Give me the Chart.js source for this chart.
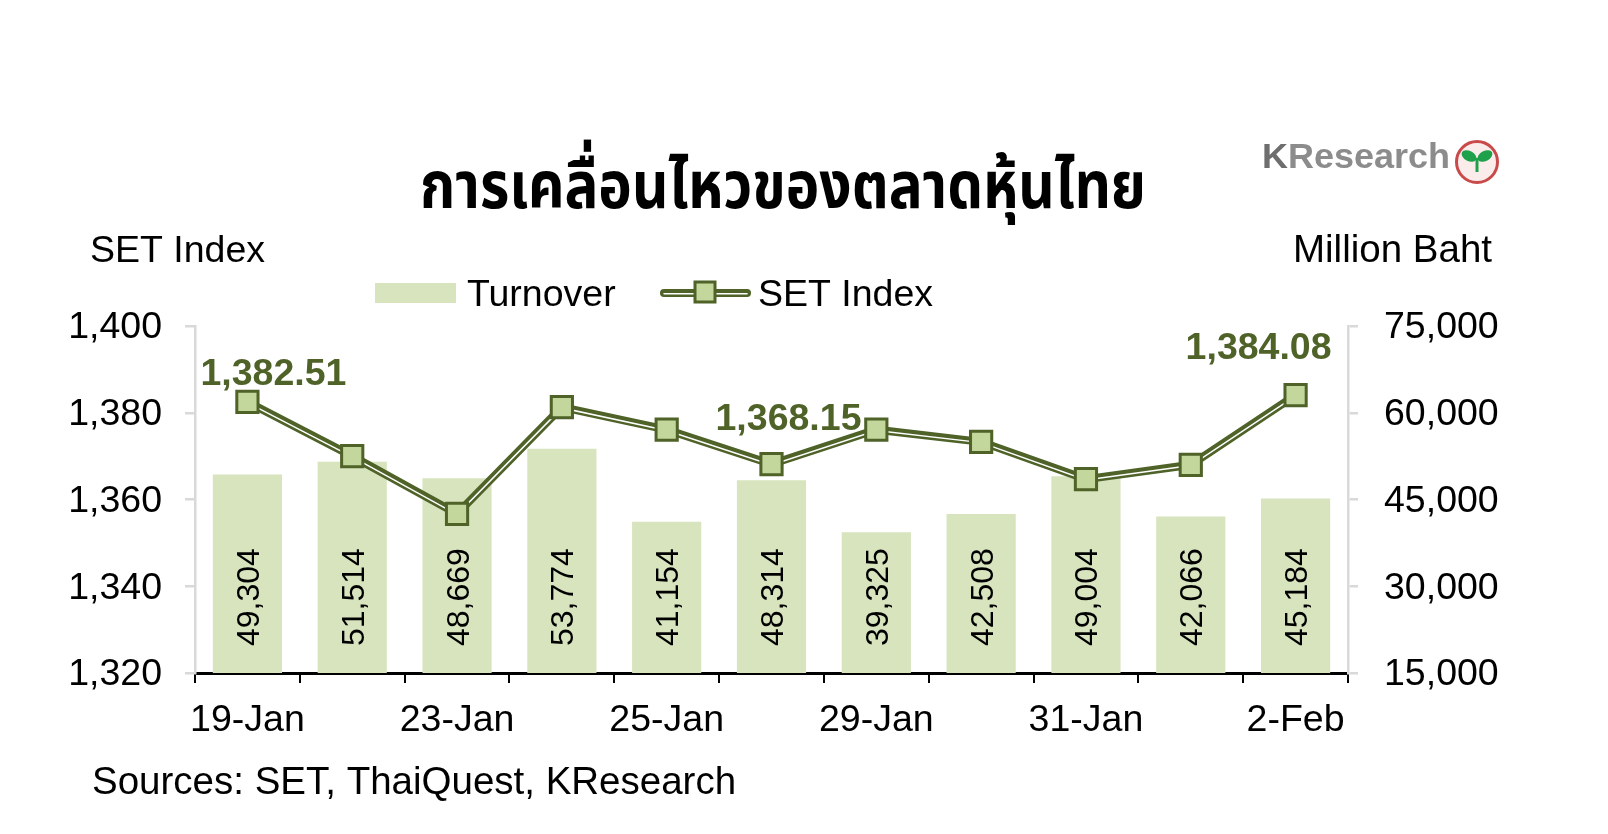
<!DOCTYPE html>
<html>
<head>
<meta charset="utf-8">
<script src="https://cdn.jsdelivr.net/npm/chart.js@4.4.1/dist/chart.umd.min.js"></script>
<style>
  html, body { margin: 0; padding: 0; background: #fff; }
  #wrap { width: 1608px; height: 834px; }
</style>
</head>
<body>
<div id="wrap"><canvas id="setChart" width="1608" height="834"></canvas></div>
<script>
// data
const dates = ['19-Jan', '22-Jan', '23-Jan', '24-Jan', '25-Jan', '26-Jan', '29-Jan', '30-Jan', '31-Jan', '1-Feb', '2-Feb'];
const turnover = [49304, 51514, 48669, 53774, 41154, 48314, 39325, 42508, 49004, 42066, 45184];
const setIndex = [1382.51, 1370.0, 1356.7, 1381.3, 1376.1, 1368.15, 1376.1, 1373.3, 1364.7, 1368.0, 1384.08];
const labelledPoints = [0, 5, 10];
const leftTicks = [1320, 1340, 1360, 1380, 1400];
const rightTicks = [15000, 30000, 45000, 60000, 75000];

const DARK = '#4F6228';
const MARKER = '#C3D69B';
const BAR = '#D7E4BD';
const AXIS_GRAY = '#D9D9D9';
const FONT = '"Liberation Sans", Arial, sans-serif';
const THAI_FONT = '"Noto Sans Thai", "Noto Sans Thai UI", "Loma", "Garuda", "Tlwg Typo", "Norasi", sans-serif';

const labelShift = [[26, -30], [17, -48], [-37, -50]];

const decor = {
  id: 'decor',
  beforeDatasetDraw(chart, args) {
    // inner white stripe of the double line sits a bit low
    if (args.index === 2) {
      chart.ctx.save();
      chart.ctx.translate(0, 0.8);
    }
  },
  afterDatasetDraw(chart, args) {
    if (args.index === 2) {
      chart.ctx.restore();
      return;
    }
    if (args.index !== 0) return;
    // turnover values, rotated inside the bars
    const ctx = chart.ctx;
    const base = chart.chartArea.bottom - 27;
    ctx.save();
    ctx.font = '32px ' + FONT;
    ctx.fillStyle = '#000';
    ctx.textAlign = 'left';
    ctx.textBaseline = 'alphabetic';
    args.meta.data.forEach((bar, i) => {
      ctx.save();
      ctx.translate(bar.x + 11.5, base);
      ctx.rotate(-Math.PI / 2);
      ctx.fillText(turnover[i].toLocaleString('en-US'), 0, 0);
      ctx.restore();
    });
    ctx.restore();
  },
  afterDraw(chart) {
    const ctx = chart.ctx;
    ctx.save();

    // value labels on SET Index
    const pts = chart.getDatasetMeta(3).data;
    ctx.font = 'bold 37.5px ' + FONT;
    ctx.fillStyle = DARK;
    ctx.textAlign = 'center';
    ctx.textBaseline = 'alphabetic';
    labelledPoints.forEach((idx, k) => {
      const p = pts[idx];
      const txt = setIndex[idx].toLocaleString('en-US', { minimumFractionDigits: 2, maximumFractionDigits: 2 });
      ctx.fillText(txt, p.x + labelShift[k][0], p.y + labelShift[k][1] + 13.5);
    });

    // axis titles and source
    ctx.fillStyle = '#000';
    ctx.font = '37.5px ' + FONT;
    ctx.textAlign = 'left';
    ctx.fillText('SET Index', 90, 262);
    ctx.font = '38.5px ' + FONT;
    ctx.fillText('Sources: SET, ThaiQuest, KResearch', 92, 794);
    ctx.textAlign = 'right';
    ctx.fillText('Million Baht', 1492, 262);

    // title, squeezed to the reference width
    ctx.font = 'bold 66px ' + THAI_FONT;
    ctx.textAlign = 'left';
    const title = 'การเคลื่อนไหวของตลาดหุ้นไทย';
    const tw = ctx.measureText(title).width;
    ctx.save();
    ctx.translate(420, 208);
    ctx.scale(726 / tw, 1);
    ctx.fillText(title, 0, 0);
    ctx.restore();

    // legend
    ctx.fillStyle = BAR;
    ctx.fillRect(375, 283, 81, 20);
    ctx.fillStyle = '#000';
    ctx.font = '37.5px ' + FONT;
    ctx.textAlign = 'left';
    ctx.fillText('Turnover', 467, 306);
    ctx.fillText('SET Index', 758, 306);
    ctx.lineCap = 'round';
    ctx.strokeStyle = DARK;
    ctx.lineWidth = 8;
    ctx.beginPath(); ctx.moveTo(664, 293); ctx.lineTo(747, 293); ctx.stroke();
    ctx.strokeStyle = '#fff';
    ctx.lineWidth = 1.5;
    ctx.beginPath(); ctx.moveTo(664, 293.8); ctx.lineTo(747, 293.8); ctx.stroke();
    ctx.fillStyle = MARKER;
    ctx.strokeStyle = DARK;
    ctx.lineWidth = 3;
    ctx.fillRect(695, 282, 20, 20);
    ctx.strokeRect(695, 282, 20, 20);

    // KResearch logo
    ctx.font = 'bold 35px ' + FONT;
    ctx.textAlign = 'left';
    ctx.save();
    ctx.translate(1262, 168);
    const kw = ctx.measureText('KResearch').width;
    ctx.scale(188 / kw, 1);
    ctx.fillStyle = '#6E6E6E';
    ctx.fillText('K', 0, 0);
    const kW = ctx.measureText('K').width;
    ctx.fillStyle = '#8C8C8C';
    ctx.fillText('Research', kW, 0);
    ctx.restore();
    ctx.beginPath();
    ctx.arc(1477, 162, 20.5, 0, Math.PI * 2);
    ctx.fillStyle = '#FBECEC';
    ctx.fill();
    ctx.strokeStyle = '#C94A4A';
    ctx.lineWidth = 3;
    ctx.stroke();
    ctx.fillStyle = '#1FA04A';
    ctx.beginPath();
    ctx.ellipse(1469, 156, 8, 5, 0.5, 0, Math.PI * 2);
    ctx.ellipse(1485, 156, 8, 5, -0.5, 0, Math.PI * 2);
    ctx.fill();
    ctx.fillRect(1475.5, 158, 3, 14);

    ctx.restore();
  }
};

const tickFont = { family: FONT, size: 37.5 };

new Chart(document.getElementById('setChart'), {
  type: 'bar',
  data: {
    labels: dates,
    datasets: [
      {
        type: 'bar',
        label: 'Turnover',
        data: turnover,
        yAxisID: 'yRight',
        backgroundColor: BAR,
        barPercentage: 0.66,
        categoryPercentage: 1,
        order: 4
      },
      {
        type: 'line',
        label: 'SET Index',
        data: setIndex,
        yAxisID: 'yLeft',
        borderColor: DARK,
        borderWidth: 8,
        pointRadius: 0,
        tension: 0,
        order: 3
      },
      {
        type: 'line',
        label: 'SET Index inner',
        data: setIndex,
        yAxisID: 'yLeft',
        borderColor: '#FFFFFF',
        borderWidth: 1.5,
        pointRadius: 0,
        tension: 0,
        order: 2
      },
      {
        type: 'line',
        label: 'SET Index markers',
        data: setIndex,
        yAxisID: 'yLeft',
        showLine: false,
        pointStyle: 'rect',
        pointRadius: 15,
        pointBorderWidth: 3,
        pointBackgroundColor: MARKER,
        pointBorderColor: DARK,
        order: 1
      }
    ]
  },
  options: {
    responsive: false,
    animation: false,
    layout: { padding: { top: 326, left: 0, right: 0, bottom: 0 } },
    plugins: {
      legend: { display: false },
      tooltip: { enabled: false }
    },
    scales: {
      x: {
        grid: { offset: true, drawOnChartArea: false, color: '#000', lineWidth: 2, tickLength: 10 },
        border: { color: '#000', width: 3 },
        ticks: {
          autoSkip: false,
          maxRotation: 0,
          padding: 15,
          color: '#000',
          font: tickFont,
          callback: (v, i) => (i % 2 ? '' : dates[i])
        },
        afterFit: s => { s.height = 834 - 673; }
      },
      yLeft: {
        position: 'left',
        min: leftTicks[0],
        max: leftTicks[leftTicks.length - 1],
        afterBuildTicks: s => { s.ticks = leftTicks.map(v => ({ value: v })); },
        grid: { drawOnChartArea: false, color: AXIS_GRAY, lineWidth: 2.5, tickLength: 10 },
        border: { color: AXIS_GRAY, width: 2.5 },
        ticks: {
          padding: 23,
          labelOffset: 2,
          color: '#000',
          font: tickFont,
          callback: v => v.toLocaleString('en-US')
        },
        afterFit: s => { s.width = 195; }
      },
      yRight: {
        position: 'right',
        min: rightTicks[0],
        max: rightTicks[rightTicks.length - 1],
        afterBuildTicks: s => { s.ticks = rightTicks.map(v => ({ value: v })); },
        grid: { drawOnChartArea: false, color: AXIS_GRAY, lineWidth: 2.5, tickLength: 10 },
        border: { color: AXIS_GRAY, width: 2.5 },
        ticks: {
          padding: 26,
          labelOffset: 2,
          color: '#000',
          font: tickFont,
          callback: v => v.toLocaleString('en-US')
        },
        afterFit: s => { s.width = 1608 - 1348; }
      }
    }
  },
  plugins: [decor]
});
</script>
</body>
</html>
